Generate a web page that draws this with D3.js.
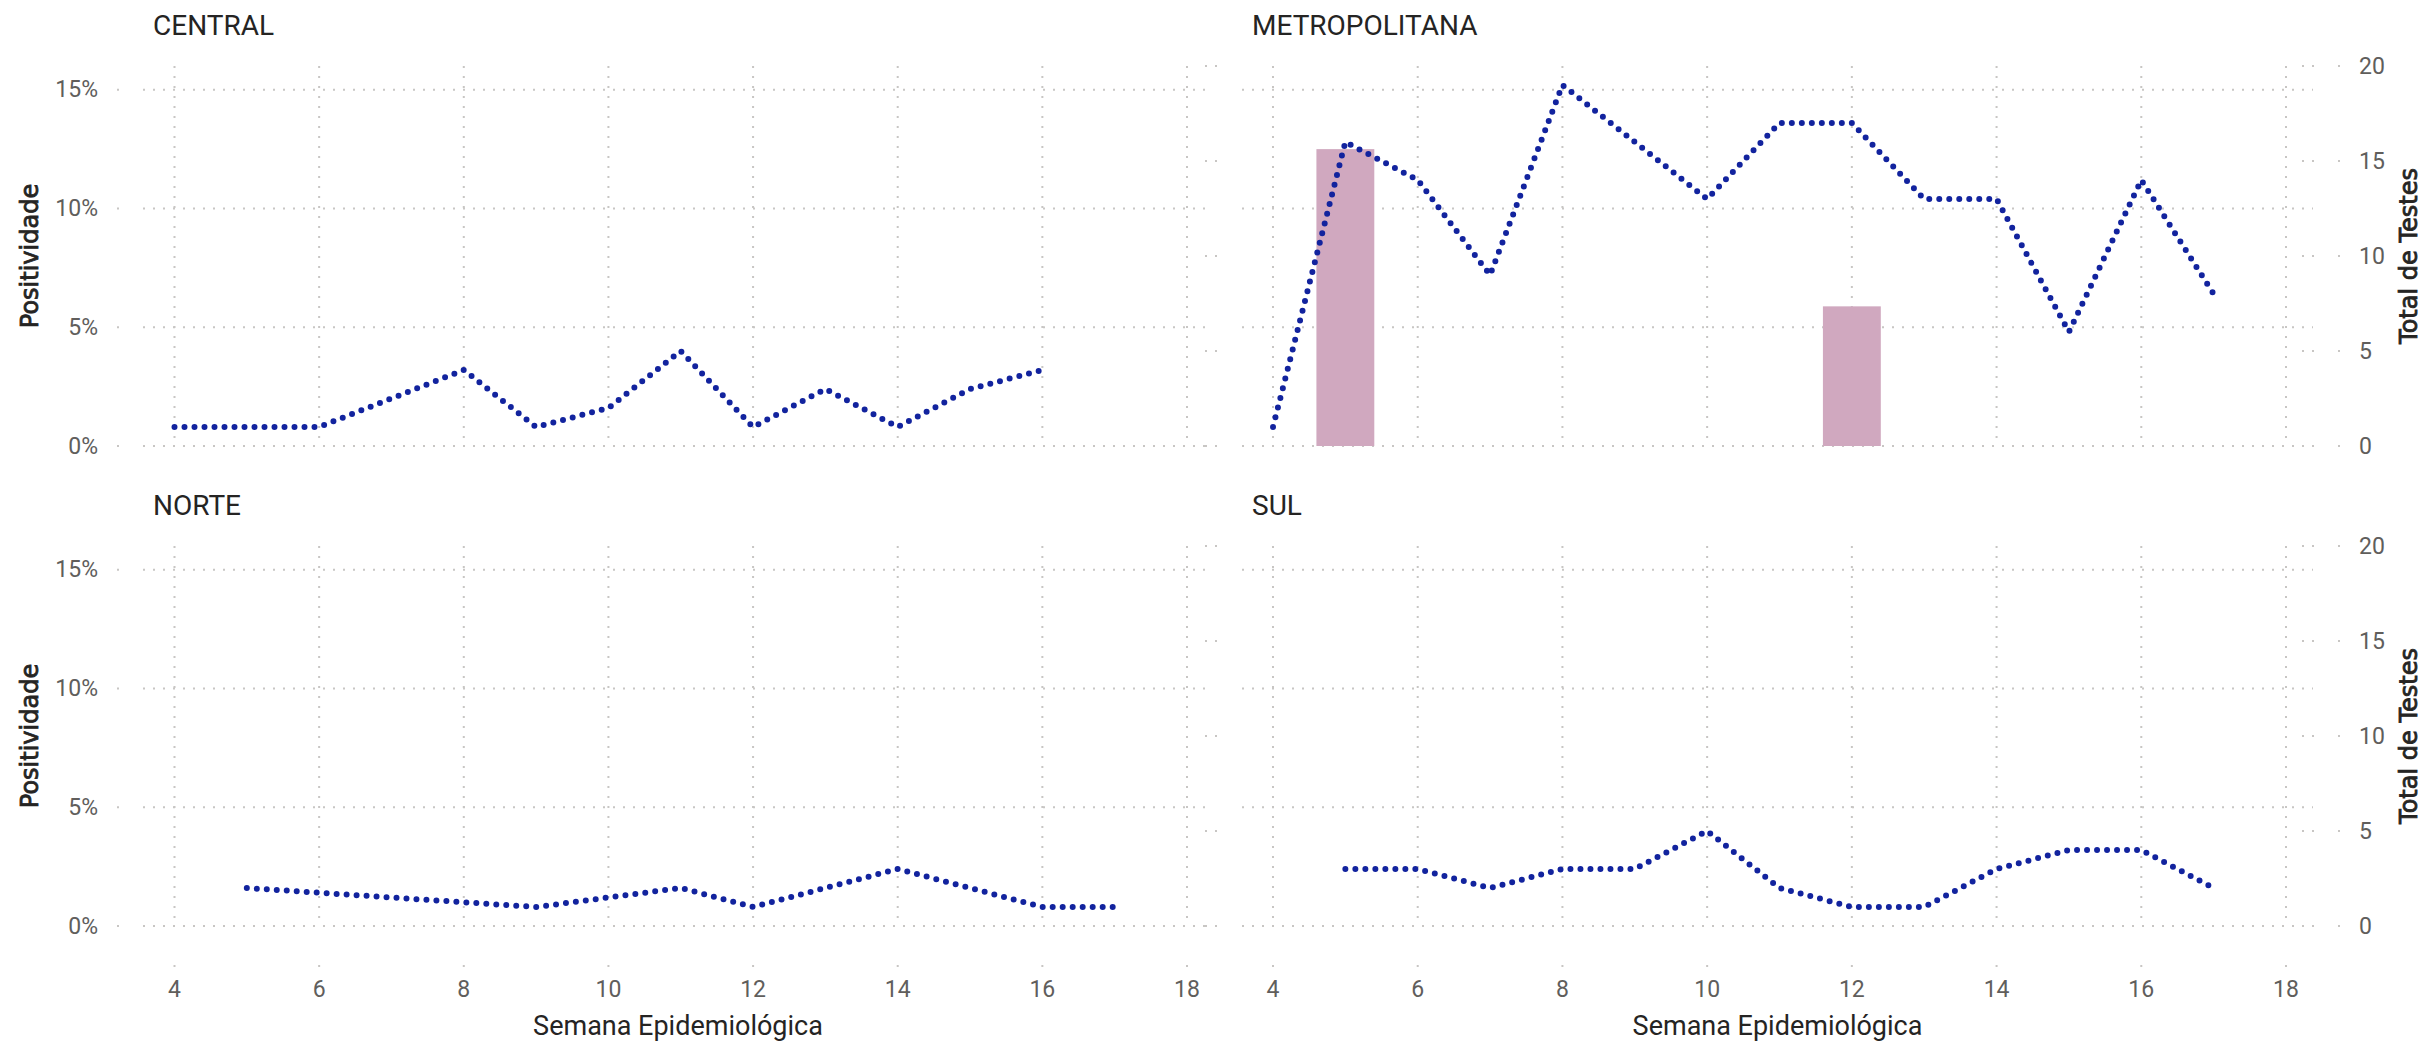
<!DOCTYPE html>
<html>
<head>
<meta charset="utf-8">
<script src="https://cdn.jsdelivr.net/npm/d3@7"></script>
<style>
  html, body { margin: 0; padding: 0; background: #ffffff; }
  svg { display: block; }
  .tick-label { font-family: Roboto, "Noto Sans", sans-serif; font-size: 23px; fill: #605E5C; }
  .panel-title { font-family: Roboto, "Noto Sans", sans-serif; font-size: 28px; fill: #252423; }
  .axis-title { font-family: "DejaVu Sans", sans-serif; font-size: 24px; fill: #252423; stroke: #252423; stroke-width: 0.8px; }
  .x-title { font-family: Roboto, "Noto Sans", sans-serif; font-size: 27px; fill: #252423; }
</style>
</head>
<body>
<svg id="chart" width="2426" height="1042"></svg>
<script>
// Epidemiological weeks shown on the x axis
const weekTicks = [4, 6, 8, 10, 12, 14, 16, 18];
// Left axis (Positividade) and right axis (Total de Testes) ticks
const pctTicks = [0, 0.05, 0.10, 0.15];
const testTicks = [0, 5, 10, 15, 20];

const regionNames = ["CENTRAL", "METROPOLITANA", "NORTE", "SUL"];

// CENTRAL
const centralWeeks = [4, 5, 6, 8, 9, 10, 11, 12, 13, 14, 15, 16];
const centralTests = [1, 1, 1, 4, 1, 2, 5, 1, 3, 1, 3, 4];
const centralPositivity = [0, 0, 0, 0, 0, 0, 0, 0, 0, 0, 0, 0];

// METROPOLITANA
const metroWeeks = [4, 5, 6, 7, 8, 9, 10, 11, 12, 13, 14, 15, 16, 17];
const metroTests = [1, 16, 14, 9, 19, 16, 13, 17, 17, 13, 13, 6, 14, 8];
const metroPositivity = [0, 0.125, 0, 0, 0, 0, 0, 0, 0.0588, 0, 0, 0, 0, 0];

// NORTE
const norteWeeks = [5, 9, 11, 12, 14, 16, 17];
const norteTests = [2, 1, 2, 1, 3, 1, 1];
const nortePositivity = [0, 0, 0, 0, 0, 0, 0];

// SUL
const sulWeeks = [5, 6, 7, 8, 9, 10, 11, 12, 13, 14, 15, 16, 17];
const sulTests = [3, 3, 2, 3, 3, 5, 2, 1, 1, 3, 4, 4, 2];
const sulPositivity = [0, 0, 0, 0, 0, 0, 0, 0, 0, 0, 0, 0, 0];

const regionData = [
  { weeks: centralWeeks, tests: centralTests, pos: centralPositivity },
  { weeks: metroWeeks, tests: metroTests, pos: metroPositivity },
  { weeks: norteWeeks, tests: norteTests, pos: nortePositivity },
  { weeks: sulWeeks, tests: sulTests, pos: sulPositivity }
];

// Layout of the 2x2 grid of small multiples
const cols = [
  { x0: 143, x1: 1213, padL: 31.5, padR: 26, stubX: [1205, 1221] },
  { x0: 1242, x1: 2313, padL: 31, padR: 27, stubX: [2302, 2318] }
];
const rows = [{ base: 446 }, { base: 926 }];
const plotH = 380;

const LINE_COLOR = "#12239E";
const BAR_COLOR = "#D0A8BF";
const GRID_COLOR = "#C8C6C4";

const svg = d3.select("#chart");
svg.append("rect").attr("width", 2426).attr("height", 1042).attr("fill", "#fff");

regionNames.forEach((name, i) => {
  const col = cols[i % 2];
  const row = rows[Math.floor(i / 2)];
  const isBottom = Math.floor(i / 2) === 1;
  const isRight = i % 2 === 1;
  const d = regionData[i];

  const x = d3.scaleLinear().domain([4, 18]).range([col.x0 + col.padL, col.x1 - col.padR]);
  const yPct = d3.scaleLinear().domain([0, 0.16]).range([row.base, row.base - plotH]);
  const yTest = d3.scaleLinear().domain([0, 20]).range([row.base, row.base - plotH]);

  const g = svg.append("g");

  // vertical gridlines
  g.selectAll(".vgrid").data(weekTicks).join("line")
    .attr("x1", w => x(w)).attr("x2", w => x(w))
    .attr("y1", yTest(20)).attr("y2", row.base)
    .attr("stroke", GRID_COLOR).attr("stroke-width", 2)
    .attr("stroke-dasharray", "2 8");
  if (isBottom) {
    g.selectAll(".vstub").data(weekTicks).join("line")
      .attr("x1", w => x(w)).attr("x2", w => x(w))
      .attr("y1", row.base + 39).attr("y2", row.base + 41)
      .attr("stroke", GRID_COLOR).attr("stroke-width", 2);
  }

  // horizontal gridlines for the percentage axis
  g.selectAll(".hgrid").data(pctTicks).join("line")
    .attr("x1", col.x0).attr("x2", col.x1)
    .attr("y1", v => yPct(v)).attr("y2", v => yPct(v))
    .attr("stroke", GRID_COLOR).attr("stroke-width", 2)
    .attr("stroke-dasharray", "2 8");
  if (!isRight) {
    g.selectAll(".hstub").data(pctTicks).join("line")
      .attr("x1", 117).attr("x2", 119)
      .attr("y1", v => yPct(v)).attr("y2", v => yPct(v))
      .attr("stroke", GRID_COLOR).attr("stroke-width", 2);
  }
  // short marks for the secondary (tests) axis at the panel edge
  g.selectAll(".tstub").data(testTicks).join("line")
    .attr("x1", col.stubX[0]).attr("x2", col.stubX[1])
    .attr("y1", v => yTest(v)).attr("y2", v => yTest(v))
    .attr("stroke", GRID_COLOR).attr("stroke-width", 2)
    .attr("stroke-dasharray", "2 8");
  if (isRight) {
    g.selectAll(".tstub2").data(testTicks).join("line")
      .attr("x1", 2338).attr("x2", 2340)
      .attr("y1", v => yTest(v)).attr("y2", v => yTest(v))
      .attr("stroke", GRID_COLOR).attr("stroke-width", 2);
  }

  // positivity bars
  const barW = x(4.8) - x(4);
  const bars = d.weeks.map((w, k) => ({ w, p: d.pos[k] })).filter(b => b.p > 0);
  g.selectAll(".bar").data(bars).join("rect")
    .attr("x", b => x(b.w) - barW / 2)
    .attr("width", barW)
    .attr("y", b => yPct(b.p))
    .attr("height", b => yPct(0) - yPct(b.p))
    .attr("fill", BAR_COLOR);

  // total tests line (dotted)
  const pts = d.weeks.map((w, k) => [w, d.tests[k]]);
  const line = d3.line().x(p => x(p[0])).y(p => yTest(p[1]));
  g.append("path").datum(pts)
    .attr("d", line)
    .attr("fill", "none")
    .attr("stroke", LINE_COLOR)
    .attr("stroke-width", 6)
    .attr("stroke-linecap", "round")
    .attr("stroke-linejoin", "round")
    .attr("stroke-dasharray", "0 10");

  // panel title
  g.append("text").attr("class", "panel-title")
    .attr("x", col.x0 + 10).attr("y", row.base - 411)
    .text(name);

  // left axis labels
  if (!isRight) {
    g.selectAll(".ylab").data(pctTicks).join("text")
      .attr("class", "tick-label")
      .attr("x", 98).attr("y", v => yPct(v))
      .attr("text-anchor", "end").attr("dominant-baseline", "central")
      .text(d3.format(".0%"));
    g.append("text").attr("class", "axis-title")
      .attr("transform", `translate(38,${row.base - plotH / 2}) rotate(-90)`)
      .attr("text-anchor", "middle")
      .text("Positividade");
  } else {
    g.selectAll(".ylab2").data(testTicks).join("text")
      .attr("class", "tick-label")
      .attr("x", 2359).attr("y", v => yTest(v))
      .attr("text-anchor", "start").attr("dominant-baseline", "central")
      .text(v => v);
    g.append("text").attr("class", "axis-title")
      .attr("transform", `translate(2417,${row.base - plotH / 2}) rotate(-90)`)
      .attr("text-anchor", "middle")
      .text("Total de Testes");
  }

  // x axis labels on the bottom row
  if (isBottom) {
    g.selectAll(".xlab").data(weekTicks).join("text")
      .attr("class", "tick-label")
      .attr("x", w => x(w)).attr("y", row.base + 63)
      .attr("text-anchor", "middle").attr("dominant-baseline", "central")
      .text(w => w);
    g.append("text").attr("class", "x-title")
      .attr("x", (col.x0 + col.x1) / 2).attr("y", row.base + 100)
      .attr("text-anchor", "middle").attr("dominant-baseline", "central")
      .text("Semana Epidemiológica");
  }
});
</script>
</body>
</html>
